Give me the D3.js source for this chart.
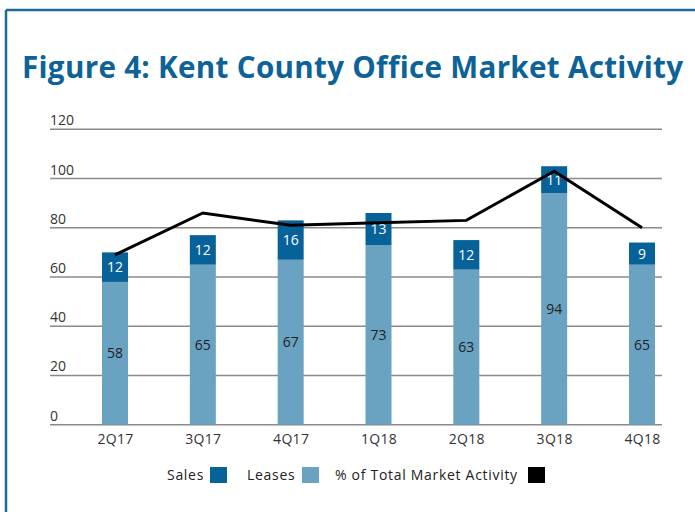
<!DOCTYPE html>
<html>
<head>
<meta charset="utf-8">
<script src="https://cdn.jsdelivr.net/npm/d3@7"></script>
<style>
  html, body { margin: 0; padding: 0; background: #fff; }
  svg { display: block; }
</style>
</head>
<body>
<svg id="chart" width="695" height="512"></svg>
<script>
// Quarterly office market activity, Kent County
const quarters = ["2Q17", "3Q17", "4Q17", "1Q18", "2Q18", "3Q18", "4Q18"];
const leases = [58, 65, 67, 73, 63, 94, 65];
const sales = [12, 12, 16, 13, 12, 11, 9];
const pctTotal = [69, 86, 81, 82, 83, 103, 80];
const yTicks = [0, 20, 40, 60, 80, 100, 120];

const SALES_COLOR = "#08629a";
const LEASE_COLOR = "#6aa2c2";
const BLUE = "#0d6397";
const FONT = "'Open Sans', sans-serif";

const svg = d3.select("#chart");

// Frame: top and left rules
svg.append("line").attr("x1", 6).attr("x2", 695).attr("y1", 10).attr("y2", 10)
  .attr("stroke", "#1d6a98").attr("stroke-width", 2.5);
svg.append("line").attr("x1", 6).attr("x2", 6).attr("y1", 10).attr("y2", 512)
  .attr("stroke", "#1d6a98").attr("stroke-width", 2.5);

// Title
svg.append("text")
  .attr("x", 22).attr("y", 78)
  .attr("font-family", FONT).attr("font-weight", 700)
  .attr("font-size", 29.6).attr("fill", BLUE)
  .attr("letter-spacing", 0.3)
  .text("Figure 4: Kent County Office Market Activity");

const x = d3.scalePoint().domain(quarters).range([115, 642]);
const y = d3.scaleLinear().domain([0, 120]).range([424.7, 129.3]);
const barW = 26;
const gridLeft = 50, gridRight = 662;

// Gridlines with labels sitting above each line
const grid = svg.append("g");
yTicks.forEach(t => {
  grid.append("line")
    .attr("x1", gridLeft).attr("x2", gridRight)
    .attr("y1", y(t)).attr("y2", y(t))
    .attr("stroke", "#8a8a8a").attr("stroke-width", 1.5);
  grid.append("text")
    .attr("x", gridLeft).attr("y", y(t) - 4)
    .attr("font-family", FONT).attr("font-size", 14).attr("fill", "#333")
    .text(t);
});

// Category axis labels
const xAxis = d3.axisBottom(x).tickSize(0).tickPadding(0);
const gx = svg.append("g").attr("transform", `translate(0, ${y(0)})`).call(xAxis);
gx.select(".domain").remove();
gx.selectAll("text")
  .attr("dy", null).attr("y", 19)
  .attr("font-family", FONT).attr("font-size", 14).attr("fill", "#333")
  .attr("letter-spacing", 0.3);

// Stacked bars
const rows = quarters.map((q, i) => ({ q, lease: leases[i], sale: sales[i], pct: pctTotal[i] }));
const bars = svg.append("g").selectAll("g").data(rows).join("g");

bars.append("rect")
  .attr("x", d => x(d.q) - barW / 2).attr("width", barW)
  .attr("y", d => y(d.lease)).attr("height", d => y(0) - y(d.lease))
  .attr("fill", LEASE_COLOR);
bars.append("rect")
  .attr("x", d => x(d.q) - barW / 2).attr("width", barW)
  .attr("y", d => y(d.lease + d.sale)).attr("height", d => y(d.lease) - y(d.lease + d.sale))
  .attr("fill", SALES_COLOR);

bars.append("text")
  .attr("x", d => x(d.q)).attr("y", d => (y(0) + y(d.lease)) / 2)
  .attr("dy", "0.35em").attr("text-anchor", "middle")
  .attr("font-family", FONT).attr("font-size", 14).attr("fill", "#1f1f1f")
  .text(d => d.lease);
bars.append("text")
  .attr("x", d => x(d.q)).attr("y", d => (y(d.lease) + y(d.lease + d.sale)) / 2)
  .attr("dy", "0.35em").attr("text-anchor", "middle")
  .attr("font-family", FONT).attr("font-size", 14).attr("fill", "#fff")
  .text(d => d.sale);

// Share of total activity line
const line = d3.line().x(d => x(d.q)).y(d => y(d.pct));
svg.append("path").datum(rows)
  .attr("d", line).attr("fill", "none")
  .attr("stroke", "#000").attr("stroke-width", 3).attr("stroke-linejoin", "miter");

// Legend
const legend = [
  { label: "Sales", color: SALES_COLOR, tx: 167, sx: 210 },
  { label: "Leases", color: LEASE_COLOR, tx: 247, sx: 302 },
  { label: "% of Total Market Activity", color: "#000", tx: 335, sx: 528 }
];
const lg = svg.append("g");
legend.forEach(l => {
  lg.append("text").attr("x", l.tx).attr("y", 480)
    .attr("font-family", FONT).attr("font-size", 14).attr("fill", "#222")
    .attr("letter-spacing", 0.7)
    .text(l.label);
  lg.append("rect").attr("x", l.sx).attr("y", 467).attr("width", 17).attr("height", 16)
    .attr("fill", l.color);
});
</script>
</body>
</html>
